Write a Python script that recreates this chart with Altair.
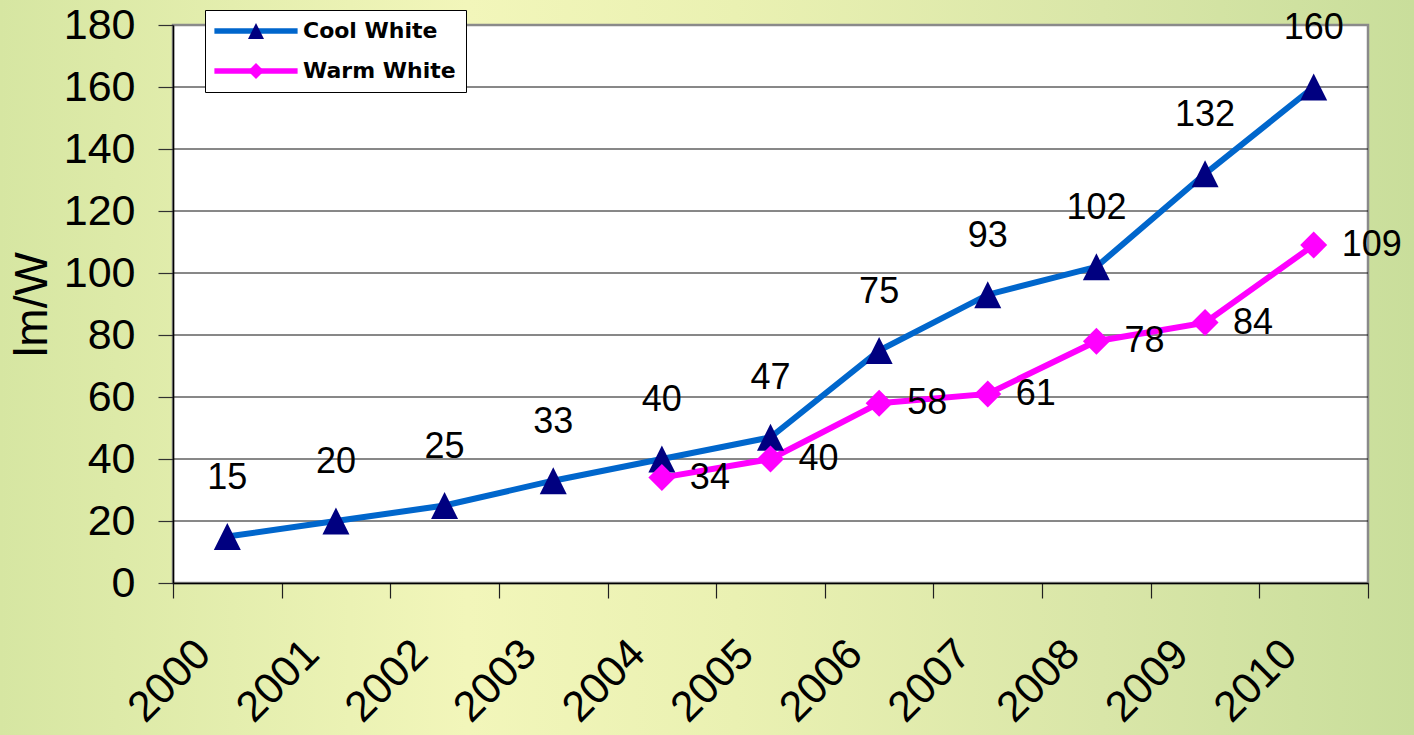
import altair as alt
import pandas as pd

# ---- data ----
years = ["2000", "2001", "2002", "2003", "2004", "2005",
         "2006", "2007", "2008", "2009", "2010"]
cool_white = [15, 20, 25, 33, 40, 47, 75, 93, 102, 132, 160]
warm_years = ["2004", "2005", "2006", "2007", "2008", "2009", "2010"]
warm_white = [34, 40, 58, 61, 78, 84, 109]
series_names = ["Cool White", "Warm White"]
y_ticks = [0, 20, 40, 60, 80, 100, 120, 140, 160, 180]

# ---- styling ----
FONT = "Liberation Sans, Arial, sans-serif"
LINE_COLORS = ["#0066CC", "#FF00FF"]
MARKER_COLORS = ["#000080", "#FF00FF"]
TRIANGLE = "M0,-1L1,1L-1,1Z"
LEGEND_LINE = "M-5.2,0L5.2,0"

W, H = 1195, 558
PAD = {"left": 173, "top": 25, "right": 46, "bottom": 152}

df = pd.DataFrame({
    "year": years + warm_years,
    "lmw": cool_white + warm_white,
    "series": [series_names[0]] * len(years) + [series_names[1]] * len(warm_years),
})
grid_df = pd.DataFrame({"lmw": y_ticks[1:-1]})
one_row = pd.DataFrame({"k": [0]})

x_enc = alt.X(
    "year:O",
    scale=alt.Scale(type="band", domain=years, paddingInner=0, paddingOuter=0),
    axis=alt.Axis(
        title=None, labelAngle=-45, labelAlign="right", labelBaseline="alphabetic",
        labelFont=FONT, labelFontSize=43, labelColor="black",
        labelPadding=58, labelOffset=-15, labelOverlap=False,
        tickSize=15, tickBand="extent", tickColor="#202020", tickWidth=1.2,
        domainColor="black", domainWidth=1.5, grid=False, zindex=1,
    ),
)
y_enc = alt.Y(
    "lmw:Q",
    scale=alt.Scale(domain=[0, 180], nice=False, zero=True),
    axis=alt.Axis(
        values=y_ticks, title="lm/W", titleFont=FONT, titleFontSize=46,
        titleFontWeight="normal", titleColor="black", titleAngle=-90,
        titleX=-141, titleY=279, titleAlign="center", titleBaseline="middle",
        labelFont=FONT, labelFontSize=43, labelColor="black", labelPadding=23,
        tickSize=15, tickColor="#303030", tickWidth=1.2,
        domainColor="black", domainWidth=1.5, grid=False, zindex=1,
    ),
)

# page background with a soft yellow-green sweep
backdrop = alt.Chart(one_row).mark_rect(
    fill=alt.LinearGradient(
        gradient="linear", x1=0, y1=0, x2=1, y2=0,
        stops=[
            alt.GradientStop(offset=0.0, color="#d6e6a2"),
            alt.GradientStop(offset=0.33, color="#f2f6ba"),
            alt.GradientStop(offset=0.52, color="#eaf1b2"),
            alt.GradientStop(offset=0.78, color="#d9e6a8"),
            alt.GradientStop(offset=1.0, color="#c9de9b"),
        ],
    )
).encode(
    x=alt.value(-PAD["left"]), x2=alt.value(W + PAD["right"]),
    y=alt.value(-PAD["top"]), y2=alt.value(H + PAD["bottom"]),
)

# white plot panel with grey frame
panel = alt.Chart(one_row).mark_rect(
    fill="white", stroke="#8a8a8a", strokeWidth=2.5
).encode(x=alt.value(0), x2=alt.value(W), y=alt.value(0), y2=alt.value(H))

grid = alt.Chart(grid_df).mark_rule(color="#111111", strokeWidth=1).encode(y=y_enc)

line_legend = alt.Legend(
    title=None, orient="none", legendX=32, legendY=-15,
    fillColor="white", strokeColor="black", padding=10,
    symbolType=LEGEND_LINE, symbolSize=256, symbolStrokeWidth=5.5, symbolOffset=30,
    labelFont="DejaVu Sans", labelFontSize=22, labelFontWeight="bold",
    labelColor="black", labelOffset=36, rowPadding=18, labelLimit=400,
)
marker_legend = alt.Legend(
    title=None, orient="none", legendX=32, legendY=-15, padding=10,
    symbolSize=256, symbolStrokeWidth=0, symbolOffset=30, symbolOpacity=1,
    labelFont="DejaVu Sans", labelFontSize=22, labelFontWeight="bold",
    labelOpacity=0, labelOffset=36, rowPadding=18, labelLimit=400, zindex=1,
)

lines = alt.Chart(df).mark_line(strokeWidth=6).encode(
    x=x_enc, y=y_enc,
    color=alt.Color("series:N",
                    scale=alt.Scale(domain=series_names, range=LINE_COLORS),
                    legend=line_legend),
)

markers = alt.Chart(df).mark_point(filled=True, size=729, opacity=1, strokeWidth=0).encode(
    x=x_enc, y=y_enc,
    fill=alt.Fill("series:N", scale=alt.Scale(range=MARKER_COLORS), legend=marker_legend),
    shape=alt.Shape("series:N", scale=alt.Scale(range=[TRIANGLE, "diamond"]),
                    legend=marker_legend),
)

cool_labels = alt.Chart(df).transform_filter(
    alt.datum.series == series_names[0]
).mark_text(
    align="center", baseline="middle", dy=-59, font=FONT, fontSize=36, color="black"
).encode(x=x_enc, y=y_enc, text="lmw:Q")

warm_labels = alt.Chart(df).transform_filter(
    alt.datum.series == series_names[1]
).mark_text(
    align="left", baseline="middle", dx=28, font=FONT, fontSize=36, color="black"
).encode(x=x_enc, y=y_enc, text="lmw:Q")

chart = alt.layer(
    backdrop, panel, grid, lines, markers, cool_labels, warm_labels
).properties(
    width=W, height=H, padding=PAD,
    autosize=alt.AutoSizeParams(type="none"),
    background="#dde9a8",
).configure_view(stroke=None)

chart.save("out.html", embed_options={"renderer": "svg", "actions": False})
